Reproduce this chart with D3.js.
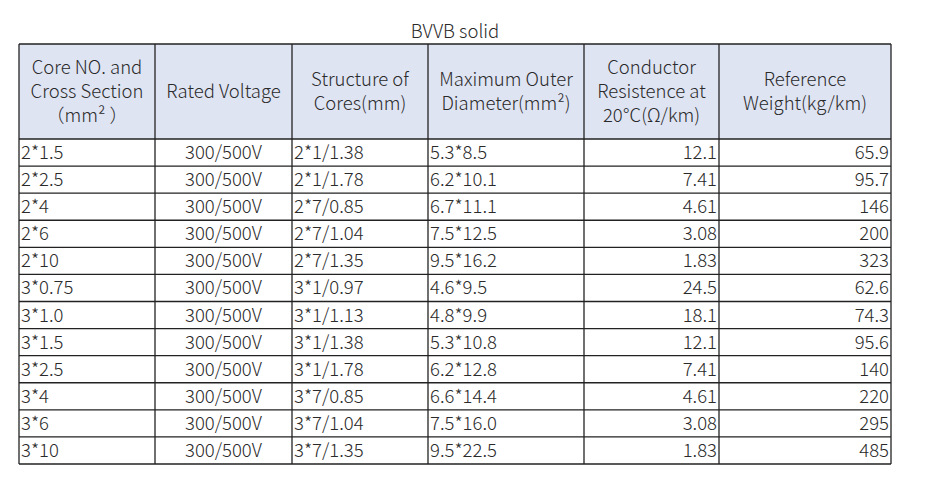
<!DOCTYPE html>
<html><head><meta charset="utf-8">
<script src="https://cdn.jsdelivr.net/npm/d3@7"></script>
<style>body{margin:0;background:#fff}text{font-family:"Noto Sans CJK SC","Noto Sans",sans-serif;fill:#2a2a2a;font-weight:300}</style>
</head><body><svg id="t" width="929" height="484"></svg>
<script>
const title = 'BVVB solid';
const headers = [
  ['Core NO. and', 'Cross Section', '（mm² ）'],
  ['Rated Voltage'],
  ['Structure of', 'Cores(mm)'],
  ['Maximum Outer', 'Diameter(mm²)'],
  ['Conductor', 'Resistence at', '20℃(Ω/km)'],
  ['Reference', 'Weight(kg/km)']
];
const cores = ['2*1.5','2*2.5','2*4','2*6','2*10','3*0.75','3*1.0','3*1.5','3*2.5','3*4','3*6','3*10'];
const voltage = cores.map(() => '300/500V');
const structure = ['2*1/1.38','2*1/1.78','2*7/0.85','2*7/1.04','2*7/1.35','3*1/0.97','3*1/1.13','3*1/1.38','3*1/1.78','3*7/0.85','3*7/1.04','3*7/1.35'];
const diameter = ['5.3*8.5','6.2*10.1','6.7*11.1','7.5*12.5','9.5*16.2','4.6*9.5','4.8*9.9','5.3*10.8','6.2*12.8','6.6*14.4','7.5*16.0','9.5*22.5'];
const resistance = ['12.1','7.41','4.61','3.08','1.83','24.5','18.1','12.1','7.41','4.61','3.08','1.83'];
const weight = ['65.9','95.7','146','200','323','62.6','74.3','95.6','140','220','295','485'];

const columns = [cores, voltage, structure, diameter, resistance, weight];
const align = ['start', 'middle', 'start', 'start', 'end', 'end'];
const edges = [19, 155, 292, 428, 584, 719, 891];
const headTop = 44, headBottom = 139, bottom = 464;

const svg = d3.select('#t');
const y = d3.scaleBand().domain(d3.range(cores.length)).range([headBottom, bottom]);

svg.append('text').attr('x', 455).attr('y', 38).attr('text-anchor', 'middle')
  .style('font-size', '18.5px').text(title);

// header background
svg.append('rect').attr('x', edges[0]).attr('y', headTop)
  .attr('width', edges[6] - edges[0]).attr('height', headBottom - headTop).attr('fill', '#dfe4f3');

// header text
headers.forEach((lines, c) => {
  const cx = (edges[c] + edges[c + 1]) / 2, cy = (headTop + headBottom) / 2;
  const lh = 24;
  lines.forEach((l, i) => {
    svg.append('text').attr('x', cx).attr('y', cy + (i - (lines.length - 1) / 2) * lh + 6.5)
      .attr('text-anchor', 'middle').style('font-size', '18.5px').text(l);
  });
});

// body cells
columns.forEach((col, c) => {
  svg.append('g').selectAll('text').data(col).join('text')
    .attr('x', align[c] === 'start' ? edges[c] + 2 : align[c] === 'end' ? edges[c + 1] - 2 : (edges[c] + edges[c + 1]) / 2)
    .attr('y', (d, i) => y(i) + y.bandwidth() / 2 + 6.5)
    .attr('text-anchor', align[c])
    .style('font-size', '18.5px')
    .text(d => d);
});

// grid
const grid = svg.append('g').attr('stroke', '#222').attr('stroke-width', 1.3);
[headTop, headBottom, ...d3.range(1, cores.length).map(i => y(i)), bottom].forEach(v => {
  grid.append('line').attr('x1', edges[0]).attr('x2', edges[6]).attr('y1', v).attr('y2', v);
});
edges.forEach(v => {
  grid.append('line').attr('x1', v).attr('x2', v).attr('y1', headTop).attr('y2', bottom);
});
</script></body></html>
